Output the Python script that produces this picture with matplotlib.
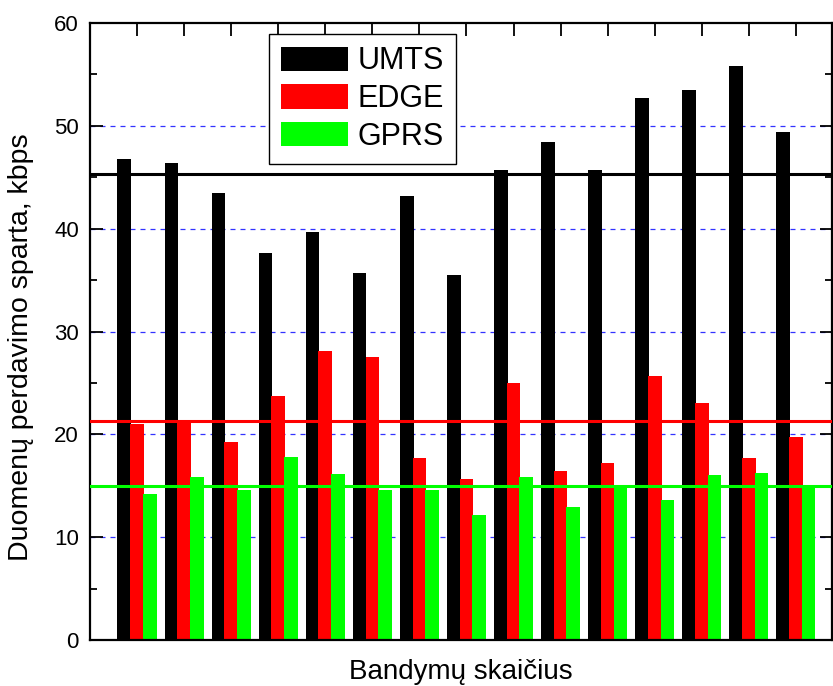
import numpy as np
import matplotlib.pyplot as plt

plt.rcParams['font.family'] = ['Liberation Sans', 'DejaVu Sans']

# Throughput per test run, kbps
runs = np.arange(1, 16)
umts = [46.8, 46.4, 43.5, 37.6, 39.7, 35.7, 43.2, 35.5, 45.7, 48.4, 45.7, 52.7, 53.5, 55.8, 49.4]
edge = [21.0, 21.2, 19.3, 23.7, 28.1, 27.5, 17.7, 15.7, 25.0, 16.4, 17.2, 25.7, 23.0, 17.7, 19.7]
gprs = [14.2, 15.9, 14.6, 17.8, 16.1, 14.6, 14.6, 12.2, 15.9, 12.9, 15.0, 13.6, 16.0, 16.2, 15.0]

series = [("UMTS", umts, "#000000"), ("EDGE", edge, "#ff0000"), ("GPRS", gprs, "#00ff00")]
offsets = [-0.27, 0.0, 0.27]
width = 0.29

fig = plt.figure(figsize=(8.33, 6.86), dpi=100)
ax = fig.add_axes([0.108, 0.067, 0.891, 0.8995])

# dashed grid behind the bars
for y in range(10, 60, 10):
    ax.axhline(y, color="#3333ff", lw=0.9, ls=(0, (4, 4)), zorder=0)

for (name, vals, col), off in zip(series, offsets):
    ax.bar(runs + off, vals, width=width, color=col, label=name, zorder=2)

# average level of each technology
for name, vals, col in series:
    ax.axhline(np.mean(vals), color=col, lw=2.2, zorder=3)

ax.set_xlim(0, 15.77)
ax.set_ylim(0, 60)
ax.set_yticks(range(0, 61, 10))
ax.set_yticks(range(5, 60, 10), minor=True)
ax.set_xticks(runs)
ax.set_xticklabels([])
ax.tick_params(axis="both", which="major", direction="in", length=9, width=1.3,
               top=True, right=True, labelsize=16, pad=8)
ax.tick_params(axis="y", which="minor", direction="in", length=5, width=1.3, right=True)
for s in ax.spines.values():
    s.set_linewidth(1.6)

ax.set_xlabel("Bandymų skaičius", fontsize=20)
ax.xaxis.set_label_coords(0.5, -0.03)
ax.set_ylabel("Duomenų perdavimo sparta, kbps", fontsize=20.5)
ax.yaxis.set_label_coords(-0.075, 0.475)

leg = ax.legend(loc="upper left", bbox_to_anchor=(0.241, 0.982), fontsize=22,
                fancybox=False, framealpha=1, edgecolor="black",
                handlelength=2.2, handleheight=0.85, handletextpad=0.3,
                labelspacing=0.25, borderpad=0.4, borderaxespad=0)
leg.get_frame().set_linewidth(1.0)

fig.savefig("out.png", dpi=100)
